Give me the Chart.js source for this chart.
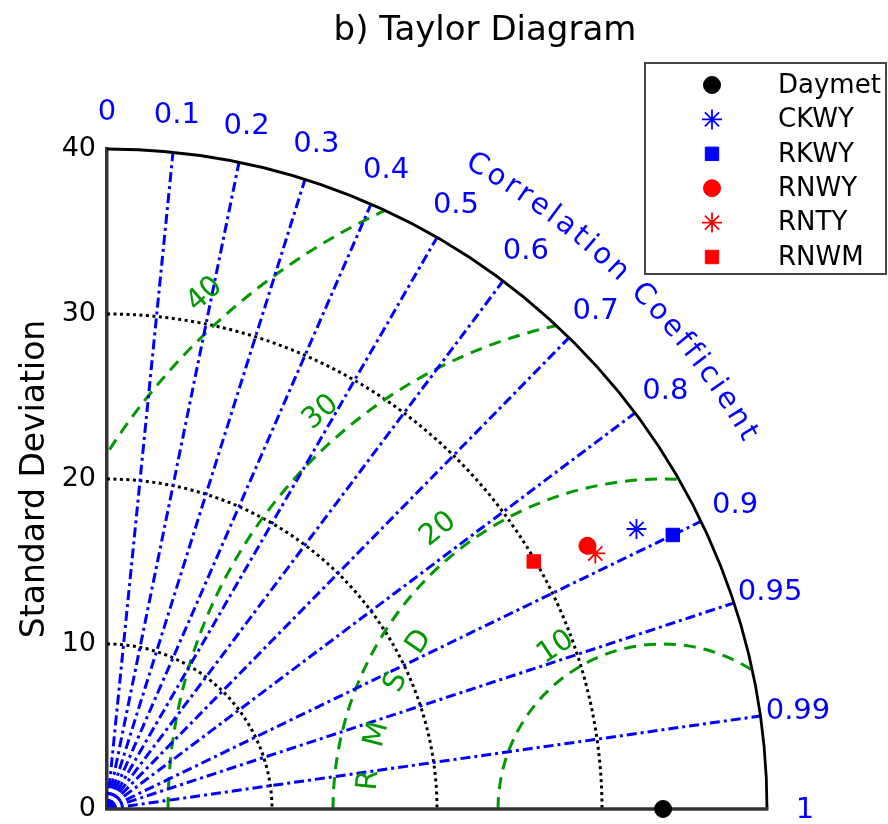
<!DOCTYPE html>
<html>
<head>
<meta charset="utf-8">
<script src="https://cdn.jsdelivr.net/npm/chart.js@4.4.0/dist/chart.umd.min.js"></script>
<style>
  html, body { margin: 0; padding: 0; background: #fff; }
</style>
</head>
<body>
<canvas id="taylor" width="888" height="824"></canvas>
<script>
    // series (std dev + correlation with Daymet)
    const seriesNames = ['Daymet', 'CKWY', 'RKWY', 'RNWY', 'RNTY', 'RNWM'];
    const stdDevs = [33.7, 36.3, 38.1, 33.2, 33.4, 29.9];
    const correlations = [1.0, 0.884, 0.900, 0.877, 0.886, 0.865];
    const seriesColors = ['#000000', '#0000ff', '#0000ff', '#ff0000', '#ff0000', '#ff0000'];
    const seriesMarkers = ['circle', 'star', 'rect', 'circle', 'star', 'rect'];

    // grid / tick values
    const stdTicks = [0, 10, 20, 30, 40];
    const stdArcs = [10, 20, 30];
    const corrTicks = [0, 0.1, 0.2, 0.3, 0.4, 0.5, 0.6, 0.7, 0.8, 0.9, 0.95, 0.99, 1];
    const rmsdArcs = [10, 20, 30, 40];

    const refStd = stdDevs[0];
    const stdMax = 40;
    const FONT = 'DejaVu Sans';
    const GREEN = 'rgb(0,153,0)';

    const markerSize = { circle: 8.5, star: 10, rect: 9.5 };
    const markerBorder = { circle: 1, star: 1.8, rect: 1 };

    function deg(a) { return a * Math.PI / 180; }

    const taylorGrid = {
        id: 'taylorGrid',
        beforeDatasetsDraw(chart) {
            const { ctx, scales: { x, y } } = chart;
            const ox = x.getPixelForValue(0), oy = y.getPixelForValue(0);
            const unit = x.getPixelForValue(1) - ox;
            const rMax = stdMax * unit;

            ctx.save();
            ctx.beginPath();
            ctx.moveTo(ox, oy);
            ctx.arc(ox, oy, rMax, -Math.PI / 2, 0);
            ctx.closePath();
            ctx.clip();

            // std dev arcs (dotted)
            ctx.strokeStyle = '#000';
            ctx.lineWidth = 3;
            ctx.setLineDash([3, 3.5]);
            stdArcs.forEach(s => {
                ctx.beginPath();
                ctx.arc(ox, oy, s * unit, -Math.PI / 2, 0);
                ctx.stroke();
            });

            // RMSD arcs round the reference
            const rx = x.getPixelForValue(refStd);
            ctx.strokeStyle = GREEN;
            ctx.lineWidth = 3;
            ctx.setLineDash([12, 8]);
            rmsdArcs.forEach(d => {
                ctx.beginPath();
                ctx.arc(rx, oy, d * unit, Math.PI, 2 * Math.PI);
                ctx.stroke();
            });

            // correlation rays
            ctx.strokeStyle = '#0000ff';
            ctx.lineWidth = 3;
            ctx.setLineDash([10, 4, 3, 4]);
            corrTicks.forEach(c => {
                if (c === 0 || c === 1) return;
                const s = Math.sqrt(1 - c * c);
                ctx.beginPath();
                ctx.moveTo(ox, oy);
                ctx.lineTo(x.getPixelForValue(stdMax * c), y.getPixelForValue(stdMax * s));
                ctx.stroke();
            });
            ctx.restore();

            // outer arc + std axis along the bottom
            ctx.save();
            ctx.strokeStyle = '#000';
            ctx.lineWidth = 2.8;
            ctx.beginPath();
            ctx.arc(ox, oy, rMax, -Math.PI / 2, 0);
            ctx.stroke();
            ctx.strokeStyle = '#333';
            ctx.lineWidth = 3.5;
            ctx.beginPath();
            ctx.moveTo(ox - 1.75, oy);
            ctx.lineTo(x.getPixelForValue(stdMax) + 1.4, oy);
            ctx.stroke();
            ctx.restore();
        },
        afterDraw(chart) {
            const { ctx, scales: { x, y } } = chart;
            const ox = x.getPixelForValue(0), oy = y.getPixelForValue(0);
            const unit = x.getPixelForValue(1) - ox;

            ctx.save();
            // correlation tick labels
            ctx.fillStyle = '#0000ff';
            ctx.font = `29px "${FONT}"`;
            ctx.textAlign = 'center';
            ctx.textBaseline = 'middle';
            corrTicks.forEach(c => {
                const s = Math.sqrt(1 - c * c);
                ctx.fillText(String(c), x.getPixelForValue(42.3 * c), y.getPixelForValue(42.3 * s) + 1);
            });

            // "Correlation Coefficient" along the arc
            drawArcText(ctx, 'Correlation Coefficient', ox, oy, 45 * unit, 60.1, 30.4, '#0000ff', 29);

            // RMSD labels
            const rx = x.getPixelForValue(refStd);
            const rmsdAngles = [123.6, 128.8, 130.8, 131.7];
            ctx.fillStyle = GREEN;
            ctx.font = `29px "${FONT}"`;
            rmsdArcs.forEach((d, i) => {
                const a = deg(rmsdAngles[i]);
                const r = (d + 1.75) * unit;
                ctx.save();
                ctx.translate(rx + r * Math.cos(a), oy - r * Math.sin(a));
                ctx.rotate(deg(90 - rmsdAngles[i]));
                ctx.fillText(String(d), 0, 0);
                ctx.restore();
            });
            const letterAngles = [174.4, 165.4, 154.6, 145.6];
            'RMSD'.split('').forEach((ch, i) => {
                const a = deg(letterAngles[i]);
                const r = 17.9 * unit;
                ctx.save();
                ctx.translate(rx + r * Math.cos(a), oy - r * Math.sin(a));
                ctx.rotate(deg(90 - letterAngles[i]));
                ctx.fillText(ch, 0, 0);
                ctx.restore();
            });

            // title
            ctx.fillStyle = '#000';
            ctx.font = `34px "${FONT}"`;
            ctx.fillText('b) Taylor Diagram', 485, 31);

            // legend box
            ctx.strokeStyle = '#444';
            ctx.lineWidth = 2;
            ctx.fillStyle = '#fff';
            ctx.fillRect(645, 63, 241, 211);
            ctx.strokeRect(645, 63, 241, 211);
            ctx.font = `26px "${FONT}"`;
            ctx.textAlign = 'left';
            chart.data.datasets.forEach((ds, i) => {
                const ry = 85 + i * 34.4;
                ctx.fillStyle = ds.backgroundColor;
                ctx.strokeStyle = ds.borderColor;
                ctx.lineWidth = ds.borderWidth;
                Chart.helpers.drawPoint(ctx, {
                    pointStyle: ds.pointStyle, radius: ds.pointRadius,
                    borderWidth: ds.borderWidth, rotation: 0
                }, 712, ry);
                ctx.fillStyle = '#000';
                ctx.fillText(ds.label, 778, ry + 1);
            });
            ctx.restore();
        }
    };

    function drawArcText(ctx, text, cx, cy, radius, startDeg, endDeg, color, size) {
        ctx.save();
        ctx.fillStyle = color;
        ctx.font = `${size}px "${FONT}"`;
        ctx.textAlign = 'center';
        ctx.textBaseline = 'middle';
        const chars = text.split('');
        const w = chars.map(ch => ctx.measureText(ch).width);
        let natural = 0;
        for (let i = 0; i < w.length - 1; i++) natural += (w[i] + w[i + 1]) / 2;
        const arcLen = deg(startDeg - endDeg) * radius;
        const extra = (arcLen - natural) / (chars.length - 1);
        let s = 0;
        chars.forEach((ch, i) => {
            if (i > 0) s += (w[i - 1] + w[i]) / 2 + extra;
            const a = deg(startDeg) - s / radius;
            ctx.save();
            ctx.translate(cx + radius * Math.cos(a), cy - radius * Math.sin(a));
            ctx.rotate(Math.PI / 2 - a);
            ctx.fillText(ch, 0, 0);
            ctx.restore();
        });
        ctx.restore();
    }

    const datasets = seriesNames.map((name, i) => ({
        label: name,
        data: [{
            x: stdDevs[i] * correlations[i],
            y: stdDevs[i] * Math.sqrt(1 - correlations[i] * correlations[i])
        }],
        pointStyle: seriesMarkers[i],
        pointRadius: markerSize[seriesMarkers[i]],
        borderWidth: markerBorder[seriesMarkers[i]],
        backgroundColor: seriesColors[i],
        borderColor: seriesColors[i],
        clip: false
    }));

    const ctx = document.getElementById('taylor').getContext('2d');
    const chart = new Chart(ctx, {
        type: 'scatter',
        data: { datasets },
        options: {
            responsive: false,
            animation: false,
            events: [],
            layout: {
                autoPadding: false,
                padding: { left: 7, top: 149, right: 121, bottom: 15 }
            },
            plugins: {
                legend: { display: false },
                title: { display: false },
                tooltip: { enabled: false }
            },
            scales: {
                x: {
                    type: 'linear', min: 0, max: stdMax,
                    display: false
                },
                y: {
                    type: 'linear', min: 0, max: stdMax,
                    afterBuildTicks(s) { s.ticks = stdTicks.map(v => ({ value: v })); },
                    ticks: { color: '#000', padding: 11, font: { family: FONT, size: 27, lineHeight: 1 } },
                    grid: { display: false, drawTicks: false },
                    border: { color: '#333', width: 3.5 },
                    title: {
                        display: true, text: 'Standard Deviation', color: '#000',
                        font: { family: FONT, size: 33 }, padding: { top: 9, bottom: 0 }
                    },
                    // tick padding would otherwise push the bottom edge up
                    afterFit(s) {
                        s.width = 100;
                        s.paddingTop = 0;
                        s.paddingBottom = 0;
                    }
                }
            }
        },
        plugins: [taylorGrid]
    });
</script>
</body>
</html>
